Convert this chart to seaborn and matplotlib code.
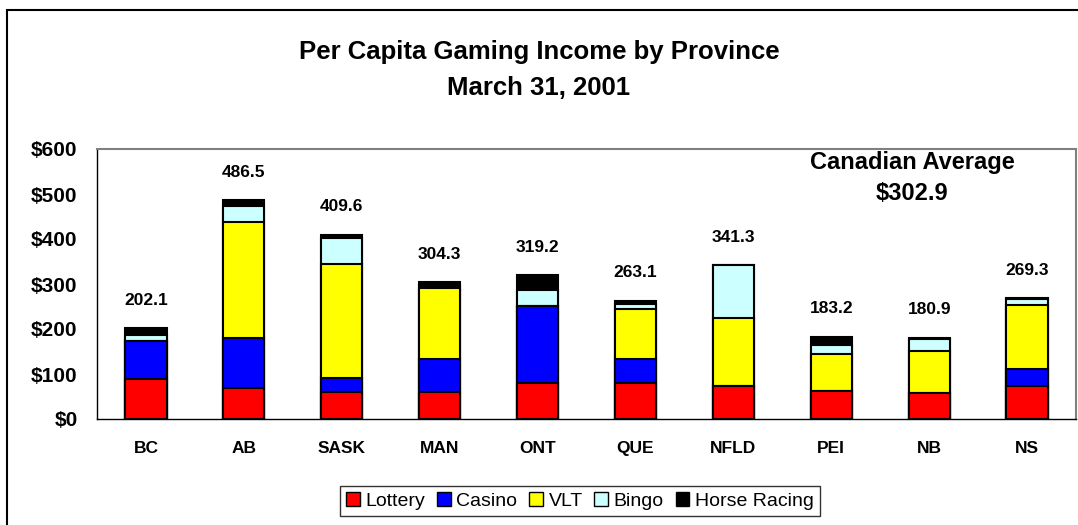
import numpy as np
import matplotlib
matplotlib.use("Agg")
import matplotlib.pyplot as plt
from matplotlib.patches import Patch, Rectangle
import seaborn as sns

sns.set_style("white")
plt.rcParams["font.family"] = ["Liberation Sans", "DejaVu Sans"]
plt.rcParams["text.color"] = "black"
plt.rcParams["xtick.color"] = "black"
plt.rcParams["ytick.color"] = "black"

# Data (per capita $)
provinces = ["BC", "AB", "SASK", "MAN", "ONT", "QUE", "NFLD", "PEI", "NB", "NS"]
lottery = [89.0, 70.0, 59.0, 59.0, 81.0, 81.0, 73.4, 63.0, 58.6, 73.4]
casino = [85.0, 111.0, 33.0, 75.0, 170.5, 52.5, 0.0, 0.0, 0.0, 38.0]
vlt = [0.0, 256.0, 252.0, 158.0, 0.0, 111.3, 152.0, 81.6, 93.5, 141.0]
bingo = [13.0, 37.0, 59.0, 3.0, 36.0, 10.5, 115.9, 20.8, 25.2, 13.3]
horse = [15.1, 12.5, 6.6, 9.3, 31.7, 7.8, 0.0, 17.8, 3.6, 3.6]
totals = [202.1, 486.5, 409.6, 304.3, 319.2, 263.1, 341.3, 183.2, 180.9, 269.3]
series_names = ["Lottery", "Casino", "VLT", "Bingo", "Horse Racing"]
series_colors = ["#FF0000", "#0000FF", "#FFFF00", "#CCFFFF", "#000000"]
yticks = [0, 100, 200, 300, 400, 500, 600]

fig = plt.figure(figsize=(10.78, 5.25), dpi=100)
ax = fig.add_axes([97 / 1078, 1 - 419 / 525, (1076 - 97) / 1078, (419 - 149) / 525])

# stacked bars: draw cumulative heights from the top series down
stack = np.cumsum(np.array([lottery, casino, vlt, bingo, horse]), axis=0)
for i in range(len(series_names) - 1, -1, -1):
    sns.barplot(x=provinces, y=stack[i], color=series_colors[i], width=0.42,
                edgecolor="black", linewidth=1.5, saturation=1, ax=ax)

for xi, t in enumerate(totals):
    ax.annotate(f"{t:.1f}", (xi, t), xytext=(0, 20), textcoords="offset points",
                ha="center", va="center", fontsize=12.5, fontweight="bold")

ax.set_xlim(-0.5, len(provinces) - 0.5)
ax.set_ylim(0, 600)
ax.set_yticks(yticks)
ax.set_yticklabels([f"${v}" for v in yticks], fontsize=15, fontweight="bold")
ax.set_xticks(range(len(provinces)))
ax.set_xticklabels(provinces, fontsize=12.5, fontweight="bold")
ax.set_xticks(np.arange(-0.5, len(provinces)), minor=True)
ax.tick_params(axis="x", which="major", length=0, pad=16)
ax.tick_params(axis="x", which="minor", length=6, width=1, direction="out", color="black")
ax.tick_params(axis="y", length=7, width=1, direction="out", color="black", pad=7)
ax.set_xlabel("")
ax.set_ylabel("")
for side in ["left", "bottom"]:
    ax.spines[side].set_color("black")
    ax.spines[side].set_linewidth(1)
for side in ["top", "right"]:
    ax.spines[side].set_color("#808080")
    ax.spines[side].set_linewidth(1.5)

fig.text(0.5, 1 - 52 / 525, "Per Capita Gaming Income by Province", ha="center", va="center",
         fontsize=18.5, fontweight="bold")
fig.text(0.5, 1 - 88 / 525, "March 31, 2001", ha="center", va="center",
         fontsize=18.5, fontweight="bold")
fig.text(912 / 1078, 1 - 163 / 525, "Canadian Average", ha="center", va="center",
         fontsize=17, fontweight="bold")
fig.text(912 / 1078, 1 - 193 / 525, "$302.9", ha="center", va="center",
         fontsize=17, fontweight="bold")

handles = [Patch(facecolor=c, edgecolor="black", linewidth=1) for c in series_colors]
leg = fig.legend(handles, series_names, loc="center", bbox_to_anchor=(580 / 1078, 1 - 501 / 525),
                 ncol=5, frameon=True, fancybox=False, fontsize=14, handlelength=0.7,
                 handleheight=0.7, handletextpad=0.3, columnspacing=0.6, borderpad=0.3)
leg.get_frame().set_edgecolor("black")
leg.get_frame().set_linewidth(1)

fig.patches.append(Rectangle((7 / 1078, -0.1), 1.1, 1.1 - 10 / 525, transform=fig.transFigure,
                             fill=False, edgecolor="black", linewidth=1.5))

fig.savefig("out.png", dpi=100)
